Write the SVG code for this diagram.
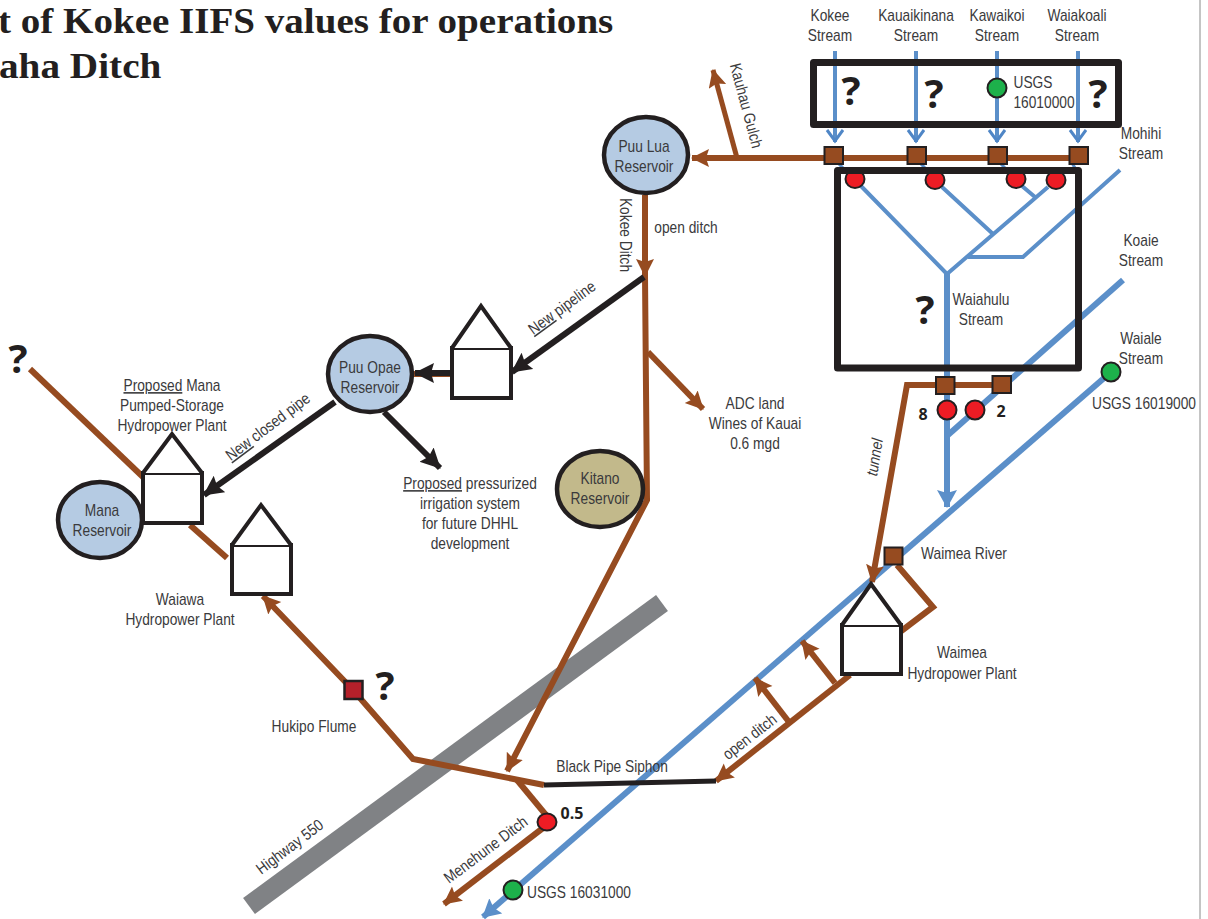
<svg xmlns="http://www.w3.org/2000/svg" width="1208" height="919" viewBox="0 0 1208 919">
<defs>
<style>
text{font-family:"Liberation Sans",Arial,sans-serif;font-size:16px;fill:#3a3a3c;text-anchor:middle}
.t{font-family:"Liberation Serif",serif;font-weight:bold;font-size:36px;fill:#231f20;text-anchor:start}
.q{font-family:"Open Sans","DejaVu Sans",sans-serif;font-weight:bold;font-size:40px;fill:#231f20}
.n{font-family:"Open Sans","DejaVu Sans",sans-serif;font-weight:bold;font-size:16px;fill:#231f20}
.l{fill:none;stroke-linejoin:miter}
.b{stroke:#964b20;stroke-width:6}
.w{stroke:#5b8fc9;stroke-width:6}
.k{stroke:#231f20;stroke-width:6}
.res{stroke:#231f20;stroke-width:4.5}
.blue{fill:#b5cbe3}
.sq{fill:#964b20;stroke:#231f20;stroke-width:2}
.red{fill:#ed1c24;stroke:#231f20;stroke-width:2}
.grn{fill:#1db14b;stroke:#231f20;stroke-width:2}
.box{fill:none;stroke:#231f20;stroke-width:7;stroke-linejoin:round}
.h{fill:#fff;stroke:#231f20;stroke-width:4}
</style>
<marker id="ab" markerUnits="userSpaceOnUse" markerWidth="20" markerHeight="20" refX="17" refY="9" orient="auto"><path d="M0 0L18 9L0 18L3 9Z" fill="#964b20"/></marker>
<marker id="ak" markerUnits="userSpaceOnUse" markerWidth="24" markerHeight="24" refX="19" refY="10" orient="auto"><path d="M0 0L20 10L0 20L3 10Z" fill="#231f20"/></marker>
<marker id="aw" markerUnits="userSpaceOnUse" markerWidth="20" markerHeight="22" refX="17" refY="10" orient="auto"><path d="M0 0L18 10L0 20L3 10Z" fill="#5b8fc9"/></marker>
<marker id="ac" markerUnits="userSpaceOnUse" markerWidth="16" markerHeight="20" refX="13" refY="9" orient="auto"><path d="M1 1L12 9L1 17" fill="none" stroke="#4f86c6" stroke-width="3"/></marker>
</defs>
<line x1="1200" y1="0" x2="1200" y2="919" stroke="#8a8a8a" stroke-width="1"/>
<text class="t" transform="translate(-2 33) scale(1.085 1)">t of Kokee IIFS values for operations</text>
<text class="t" transform="translate(-1 78) scale(1.09 1)">aha Ditch</text>

<g id="connectors" class="l">
<path d="M662 603L249 906" stroke="#808285" stroke-width="20"/>
<g class="w">
<path d="M835 51V142" style="stroke-width:4" marker-end="url(#ac)"/>
<path d="M916 51V142" style="stroke-width:4" marker-end="url(#ac)"/>
<path d="M997 51V142" style="stroke-width:4" marker-end="url(#ac)"/>
<path d="M1078 51V142" style="stroke-width:4" marker-end="url(#ac)"/>
<path d="M838 163L843 168M920 163L925 168M1000 163L1005 168M1075 168L1072 163" style="stroke-width:3"/>
<path d="M860 185L947 274M942 187L993 234M1022 186L1035 197M1048 187L947 274M968 257H1023L1120 170" style="stroke-width:4"/>
<path d="M947 274V507" marker-end="url(#aw)"/>
<path d="M1123 280L948 435"/>
<path d="M1111 372L483 917" marker-end="url(#aw)"/>
</g>
<g class="b">
<path d="M1078 158H692" marker-end="url(#ab)"/>
<path d="M737 158L713 70" style="stroke-width:5" marker-end="url(#ab)"/>
<path d="M645 195V276" marker-end="url(#ab)"/>
<path d="M645 276L647 500L507 771" marker-end="url(#ab)"/>
<path d="M648 352L703 409" marker-end="url(#ab)"/>
<path d="M1000 385H907L872 582" marker-end="url(#ab)"/>
<path d="M897 565L933 607L900 632"/>
<path d="M850 675L716 781" marker-end="url(#ab)"/>
<path d="M835 683L802 641" marker-end="url(#ab)"/>
<path d="M789 722L755 678" marker-end="url(#ab)"/>
<path d="M544 785L413 759L353 690L263 596" marker-end="url(#ab)"/>
<path d="M517 780L546 815"/>
<path d="M543 828L444 904" marker-end="url(#ab)"/>
<path d="M30 369L143 477"/>
<path d="M190 525L227 558"/>
<path d="M452 374H414"/>
</g>
<g class="k">
<path d="M544 785L716 781" style="stroke-width:5"/>
<path d="M644 277L512 372" marker-end="url(#ak)"/>
<path d="M452 373H415" marker-end="url(#ak)"/>
<path d="M335 402L204 495" marker-end="url(#ak)"/>
<path d="M384 412L440 468" marker-end="url(#ak)"/>
</g>
</g>

<g id="upper-intake"><rect class="box" x="813.5" y="62.5" width="305" height="62"/>
<text class="q" x="851" y="105">?</text><text class="q" x="934" y="108">?</text><text class="q" x="1098" y="108">?</text>
<circle class="grn" cx="997" cy="88" r="9.5"/>
<text transform="translate(1033 88) scale(.86 1)">USGS</text><text transform="translate(1044 108) scale(.86 1)">16010000</text></g>
<g id="gauges-waiahulu">
<ellipse class="red" cx="855" cy="179" rx="9.5" ry="9"/><ellipse class="red" cx="935" cy="180" rx="9.5" ry="9"/><ellipse class="red" cx="1016" cy="179" rx="9.5" ry="9"/><ellipse class="red" cx="1056" cy="180" rx="9.5" ry="9"/>
</g>
<g id="lower-box"><rect class="box" x="837.5" y="170.5" width="241" height="197.5"/>
<text class="q" x="925" y="324">?</text><text transform="translate(981 305) scale(.86 1)">Waiahulu</text><text transform="translate(981 325) scale(.86 1)">Stream</text></g>
<g id="diversions">
<rect class="sq" x="824.5" y="147" width="18.5" height="17"/><rect class="sq" x="907.5" y="147" width="18.5" height="17"/><rect class="sq" x="988.5" y="147" width="18.5" height="17"/><rect class="sq" x="1069.5" y="147" width="18.5" height="17"/>
<rect class="sq" x="936" y="377" width="18.5" height="17"/><rect class="sq" x="992.5" y="376" width="18.5" height="17"/>
<rect class="sq" x="884.5" y="547.5" width="18" height="17"/>
<rect x="344.5" y="681" width="18" height="18" fill="#b5202a" stroke="#231f20" stroke-width="2.5"/>
</g>
<g id="gauges">
<circle class="red" cx="947" cy="410" r="9.5"/><circle class="red" cx="975" cy="410" r="9.5"/>
<ellipse class="red" cx="547" cy="822" rx="9.5" ry="8.5"/>
<circle class="grn" cx="1111" cy="372" r="9.5"/>
<circle class="grn" cx="513" cy="890" r="9.5"/>
</g>
<g id="puu-lua"><ellipse class="res blue" cx="646" cy="155" rx="42" ry="38"/><text transform="translate(644 152) scale(.86 1)">Puu Lua</text><text transform="translate(644 172) scale(.86 1)">Reservoir</text></g>
<g id="puu-opae"><ellipse class="res blue" cx="370" cy="374" rx="42" ry="38"/><text transform="translate(370 373) scale(.86 1)">Puu Opae</text><text transform="translate(370 393) scale(.86 1)">Reservoir</text></g>
<g id="mana"><ellipse class="res blue" cx="100" cy="520" rx="42" ry="38"/><text transform="translate(102 516) scale(.86 1)">Mana</text><text transform="translate(102 536) scale(.86 1)">Reservoir</text></g>
<g id="kitano"><ellipse class="res" fill="#c2b98b" cx="600" cy="489" rx="43" ry="38"/><text transform="translate(600 484) scale(.86 1)">Kitano</text><text transform="translate(600 504) scale(.86 1)">Reservoir</text></g>
<g id="plant-top"><rect class="h" x="452" y="348" width="59" height="50"/><path class="h" d="M452 348L481 306L511 348"/></g>
<g id="plant-mana"><rect class="h" x="143" y="473" width="59" height="50"/><path class="h" d="M143 473L172 434L202 473"/></g>
<g id="plant-waiawa"><rect class="h" x="232" y="545" width="59" height="49"/><path class="h" d="M232 545L261 505L291 545"/></g>
<g id="plant-waimea"><rect class="h" x="842" y="625" width="59" height="49"/><path class="h" d="M842 625L871 584L901 625"/></g>
<g id="labels">
<text transform="translate(830 21) scale(.86 1)">Kokee</text><text transform="translate(830 41) scale(.86 1)">Stream</text>
<text transform="translate(916 21) scale(.86 1)">Kauaikinana</text><text transform="translate(916 41) scale(.86 1)">Stream</text>
<text transform="translate(997 21) scale(.86 1)">Kawaikoi</text><text transform="translate(997 41) scale(.86 1)">Stream</text>
<text transform="translate(1077 21) scale(.86 1)">Waiakoali</text><text transform="translate(1077 41) scale(.86 1)">Stream</text>
<text transform="translate(1141 139) scale(.86 1)">Mohihi</text><text transform="translate(1141 159) scale(.86 1)">Stream</text>
<text transform="translate(1141 246) scale(.86 1)">Koaie</text><text transform="translate(1141 266) scale(.86 1)">Stream</text>
<text transform="translate(1141 344) scale(.86 1)">Waiale</text><text transform="translate(1141 364) scale(.86 1)">Stream</text>
<text transform="translate(1144 409) scale(.86 1)">USGS 16019000</text>
<text transform="translate(964 559) scale(.86 1)">Waimea River</text>
<text transform="translate(962 658) scale(.86 1)">Waimea</text><text transform="translate(962 679) scale(.86 1)">Hydropower Plant</text>
<text transform="translate(686 233) scale(.86 1)">open ditch</text>
<text transform="translate(755 409) scale(.86 1)">ADC land</text><text transform="translate(755 429) scale(.86 1)">Wines of Kauai</text><text transform="translate(755 449) scale(.86 1)">0.6 mgd</text>
<text transform="translate(470 489) scale(.86 1)"><tspan text-decoration="underline">Proposed</tspan> pressurized</text><text transform="translate(470 509) scale(.86 1)">irrigation system</text><text transform="translate(470 529) scale(.86 1)">for future DHHL</text><text transform="translate(470 549) scale(.86 1)">development</text>
<text transform="translate(172 391) scale(.86 1)"><tspan text-decoration="underline">Proposed</tspan> Mana</text><text transform="translate(172 411) scale(.86 1)">Pumped-Storage</text><text transform="translate(172 431) scale(.86 1)">Hydropower Plant</text>
<text transform="translate(180 605) scale(.86 1)">Waiawa</text><text transform="translate(180 625) scale(.86 1)">Hydropower Plant</text>
<text transform="translate(314 732) scale(.86 1)">Hukipo Flume</text>
<text transform="translate(612 772) scale(.86 1)">Black Pipe Siphon</text>
<text transform="translate(579 898) scale(.86 1)">USGS 16031000</text>
<text class="n" x="572" y="819">0.5</text>
<text class="n" x="923" y="420">8</text><text class="n" x="1001" y="417">2</text>
<text class="q" x="18" y="373">?</text><text class="q" x="385" y="700">?</text>
<text transform="translate(741 107) rotate(75) scale(.86 1)">Kauhau Gulch</text>
<text transform="translate(620 235) rotate(90) scale(.86 1)">Kokee Ditch</text>
<text transform="translate(565 312) rotate(-36) scale(.86 1)"><tspan text-decoration="underline">New</tspan> pipeline</text>
<text transform="translate(271 431) rotate(-37) scale(.86 1)"><tspan text-decoration="underline">New</tspan> closed pipe</text>
<text transform="translate(880 458) rotate(-81) scale(.86 1)" font-style="italic">tunnel</text>
<text transform="translate(753 741) rotate(-38) scale(.86 1)">open ditch</text>
<text transform="translate(293 851) rotate(-37) scale(.86 1)">Highway 550</text>
<text transform="translate(489 854) rotate(-37) scale(.86 1)">Menehune Ditch</text>
</g>
</svg>
